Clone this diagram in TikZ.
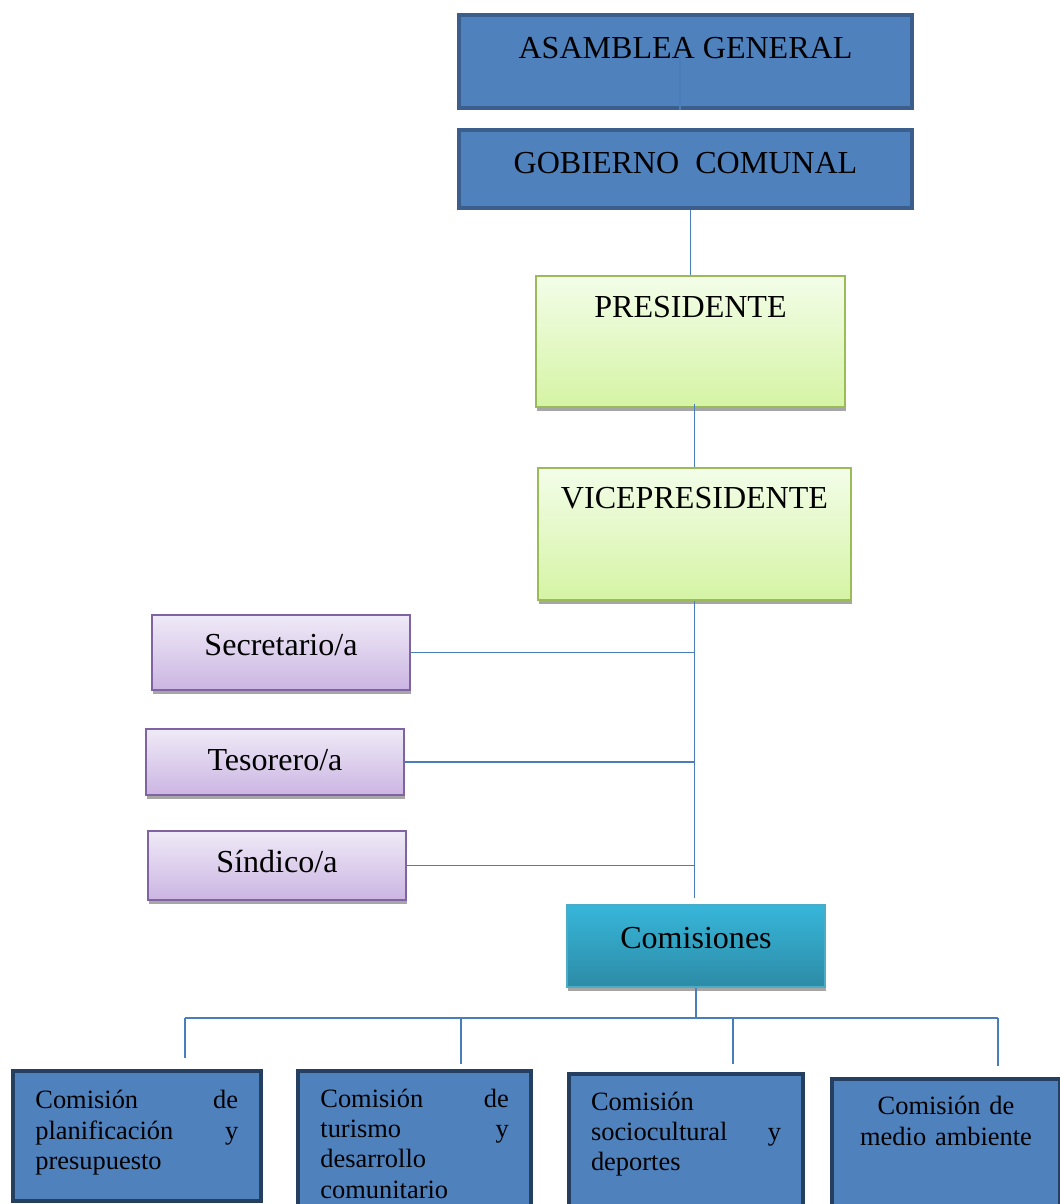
\documentclass[tikz,border=0pt]{standalone}
\usepackage{fontspec}
\setmainfont{Liberation Serif}
\usepackage{xcolor}
\usepackage{tikz}
\usetikzlibrary{shapes, positioning, shadows, calc}

\definecolor{orgblue}{HTML}{4F81BD}
\definecolor{orgblueline}{HTML}{3B5E8C}
\definecolor{orgnavy}{HTML}{243F60}
\definecolor{linkblue}{HTML}{4A7EBB}
\definecolor{greentop}{HTML}{F3FDE9}
\definecolor{greenbot}{HTML}{D5F4A4}
\definecolor{greenline}{HTML}{9BBB59}
\definecolor{violettop}{HTML}{EFEAF7}
\definecolor{violetbot}{HTML}{CBB5E2}
\definecolor{violetline}{HTML}{8064A2}
\definecolor{tealtop}{HTML}{37B6DA}
\definecolor{tealbot}{HTML}{2D8BA6}
\definecolor{tealline}{HTML}{4BACC6}

\begin{document}
\begin{tikzpicture}[
    bigfont/.style={font=\fontsize{22.8}{27}\selectfont},
    smallfont/.style={font=\fontsize{18.8}{21.4}\selectfont},
    council/.style={rectangle, draw=orgblueline, line width=2.8pt, fill=orgblue, inner xsep=0pt, inner ysep=0pt, align=center, bigfont},
    officer/.style={rectangle, draw=greenline, line width=1.2pt, top color=greentop, bottom color=greenbot, inner xsep=0pt, inner ysep=0pt, align=center, bigfont,
        drop shadow={shadow xshift=0.02cm, shadow yshift=-0.1cm, fill=black!35, opacity=1}},
    member/.style={rectangle, draw=violetline, line width=1.2pt, top color=violettop, bottom color=violetbot, minimum width=6.45cm, inner xsep=0pt, inner ysep=0pt, align=center, bigfont,
        drop shadow={shadow xshift=0.02cm, shadow yshift=-0.1cm, fill=black!35, opacity=1}},
    board/.style={rectangle, draw=tealline, line width=1pt, top color=tealtop, bottom color=tealbot, minimum width=6.45cm, inner xsep=0pt, inner ysep=0pt, align=center, bigfont,
        drop shadow={shadow xshift=0.02cm, shadow yshift=-0.1cm, fill=black!35, opacity=1}},
    committee/.style={rectangle, draw=orgnavy, line width=2.8pt, fill=orgblue, anchor=north, inner xsep=0.56cm, inner ysep=0pt, align=left, smallfont},
    link/.style={draw=linkblue, line width=1.1pt}
]
    \useasboundingbox (0,0) rectangle (26.5,-30.1);
    \clip (0,0) rectangle (26.5,-30.1);

    % Governing bodies
    \node [council, minimum width=11.32cm, text height=1.075cm, text depth=1.25cm] (asamblea) at (17.1375,-1.5375) {ASAMBLEA GENERAL};
    \node [council, minimum width=11.32cm, text height=1.075cm, text depth=0.875cm] (gobierno) at (17.1375,-4.225) {GOBIERNO\ \ COMUNAL};

    % Executive
    \node [officer, minimum width=7.725cm, text height=1.025cm, text depth=2.25cm] (presidente) at (17.2625,-8.5375) {PRESIDENTE};
    \node [officer, minimum width=7.825cm, text height=1.0cm, text depth=2.3cm] (vice) at (17.3625,-13.35) {VICEPRESIDENTE};

    % Board members
    \node [member, text height=1.0cm, text depth=0.875cm] (secretario) at (7.025,-16.3125) {Secretario/a};
    \node [member, text height=1.025cm, text depth=0.625cm] (tesorero) at (6.875,-19.05) {Tesorero/a};
    \node [member, text height=1.025cm, text depth=0.7cm] (sindico) at (6.925,-21.6375) {Síndico/a};

    % Committees
    \node [board, text height=1.075cm, text depth=0.975cm] (comisiones) at (17.4,-23.65) {Comisiones};

    \node [committee, text width=5.07cm, text height=0.95cm, text depth=2.3cm] (planificacion) at (3.42,-26.725)
        {Comisión\hfill de\\planificación\hfill y\\presupuesto};
    \node [committee, text width=4.71cm, text height=0.92cm, text depth=2.7cm] (turismo) at (10.365,-26.725)
        {Comisión\hfill de\\turismo\hfill y\\desarrollo\\comunitario};
    \node [committee, text width=4.75cm, text height=0.915cm, text depth=2.6cm] (sociocultural) at (17.15,-26.8)
        {Comisión\\sociocultural\hfill y\\deportes};
    \node [committee, align=center, text width=4.58cm, text height=0.9cm, text depth=2.6cm] (ambiente) at (23.65,-26.925)
        {Comisión de\\medio ambiente};

    % Connectors
    \coordinate (agmark) at (17.0,-1.375);
    \draw [link] (agmark) -- (agmark |- asamblea.south);
    \draw [link] (presidente.north |- gobierno.south) -- (presidente.north);
    \draw [link] ($(vice.north |- presidente.south)+(0,0.1)$) -- (vice.north);

    \coordinate (trunkend) at ($(comisiones.north)+(0,0.15)$);
    \draw [link] (vice.south) -- (vice.south |- trunkend);
    \draw [link] (secretario.east) -- (secretario.east -| vice.south);
    \draw [link] (tesorero.east) -- (tesorero.east -| vice.south);
    \draw [link] (sindico.east) -- (sindico.east -| vice.south);

    \coordinate (busleft) at (4.625,-25.45);
    \coordinate (busright) at (24.95,-25.45);
    \coordinate (drop1) at (4.625,-26.45);
    \coordinate (drop2) at (11.525,-26.6);
    \coordinate (drop3) at (18.325,-26.6);
    \coordinate (drop4) at (24.95,-26.65);
    \draw [link] (comisiones.south) -- (comisiones.south |- busleft);
    \draw [link] (busleft) -- (busright);
    \draw [link] (busleft) -- (drop1);
    \draw [link] (drop2 |- busleft) -- (drop2);
    \draw [link] (drop3 |- busleft) -- (drop3);
    \draw [link] (busright) -- (drop4);
\end{tikzpicture}
\end{document}
